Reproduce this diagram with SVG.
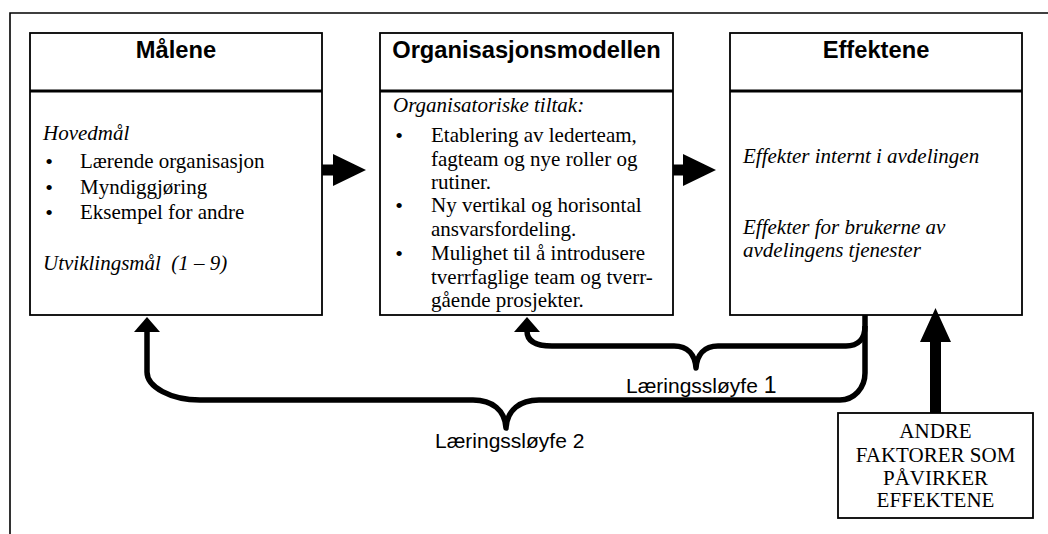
<svg xmlns="http://www.w3.org/2000/svg" width="1048" height="534" viewBox="0 0 1048 534">
<style>
.box{fill:#fff;stroke:#000;stroke-width:1.8}
.div{stroke:#000;stroke-width:2.8}
.title{font-family:"Liberation Sans",Arial,sans-serif;font-weight:bold;font-size:23.7px;text-anchor:middle;fill:#000}
.t{font-family:"Liberation Serif","Times New Roman",serif;font-size:21px;fill:#000}
.i{font-style:italic}
.b{text-anchor:middle;font-size:22px}
.c{text-anchor:middle}
.lbl{font-family:"Liberation Sans",Arial,sans-serif;font-size:21px;fill:#000}
.brace{fill:none;stroke:#000;stroke-width:5.5;stroke-linejoin:round}
.solid{fill:#000;stroke:none}
</style>
<rect width="1048" height="534" fill="#fff"/>
<path d="M10,534 L10,13 L1048,13" fill="none" stroke="#000" stroke-width="1.6"/>

<g id="node-malene">
<rect class="box" x="30" y="33" width="292" height="282"/>
<line class="div" x1="30" y1="91" x2="322" y2="91"/>
<text class="title" x="176" y="58">Målene</text>
<text class="t i" x="43" y="140">Hovedmål</text>
<text class="t b" x="49" y="169">•</text>
<text class="t" x="80" y="168">Lærende organisasjon</text>
<text class="t b" x="49" y="195">•</text>
<text class="t" x="80" y="194">Myndiggjøring</text>
<text class="t b" x="49" y="220">•</text>
<text class="t" x="80" y="219">Eksempel for andre</text>
<text class="t i" x="43" y="270">Utviklingsmål&#160; (1 – 9)</text>
</g>

<g id="node-organisasjonsmodellen">
<rect class="box" x="380" y="33" width="293" height="282"/>
<line class="div" x1="380" y1="91" x2="673" y2="91"/>
<text class="title" x="526.5" y="58">Organisasjonsmodellen</text>
<text class="t i" x="393" y="112">Organisatoriske tiltak:</text>
<text class="t b" x="399" y="143">•</text>
<text class="t" x="431" y="142">Etablering av lederteam,</text>
<text class="t" x="431" y="165.5">fagteam og nye roller og</text>
<text class="t" x="431" y="189">rutiner.</text>
<text class="t b" x="399" y="213">•</text>
<text class="t" x="431" y="212">Ny vertikal og horisontal</text>
<text class="t" x="431" y="235.5">ansvarsfordeling.</text>
<text class="t b" x="399" y="261">•</text>
<text class="t" x="431" y="260">Mulighet til å introdusere</text>
<text class="t" x="431" y="283.5">tverrfaglige team og tverr-</text>
<text class="t" x="431" y="307">gående prosjekter.</text>
</g>

<g id="node-effektene">
<rect class="box" x="730" y="33" width="292" height="282"/>
<line class="div" x1="730" y1="91" x2="1022" y2="91"/>
<text class="title" x="876" y="58">Effektene</text>
<text class="t i" x="743" y="163">Effekter internt i avdelingen</text>
<text class="t i" x="743" y="234">Effekter for brukerne av</text>
<text class="t i" x="743" y="257">avdelingens tjenester</text>
</g>

<g id="node-andre-faktorer">
<rect class="box" x="838" y="413" width="195" height="105"/>
<text class="t c" x="935.5" y="438">ANDRE</text>
<text class="t c" x="935.5" y="462">FAKTORER SOM</text>
<text class="t c" x="935.5" y="485">PÅVIRKER</text>
<text class="t c" x="935.5" y="507">EFFEKTENE</text>
</g>

<g id="connectors">
<path class="solid" d="M322,164.5 L333,164.5 L333,154 L366,170 L333,186 L333,175.5 L322,175.5 Z"/>
<path class="solid" d="M673,164.5 L683,164.5 L683,154 L716,170 L683,186 L683,175.5 L673,175.5 Z"/>
<path class="solid" d="M930,413 L930,342 L920,342 L935.5,308 L951,342 L941,342 L941,413 Z"/>
<path class="brace" d="M865,315 L865,373 C865,388 854,400 840,400 L539,400 C520,400 507,410 506,428 C505,410 492,400 473,400 L200,400 C170.8,400 147,387 147,372 L147,331"/>
<path class="solid" d="M134,332 L147,317 L160,332 Z"/>
<path class="brace" d="M527,331 C527,341 536,346 552,346 L674,346 C688,346 695,355 696,368 C697,355 704,346 718,346 L846,346 C858,346 865,339 865,326"/>
<path class="solid" d="M514,332 L527,317 L540,332 Z"/>
<text class="lbl" x="626" y="393">Læringssløyfe <tspan font-size="23">1</tspan></text>
<text class="lbl" x="435" y="448">Læringssløyfe 2</text>
</g>
</svg>
